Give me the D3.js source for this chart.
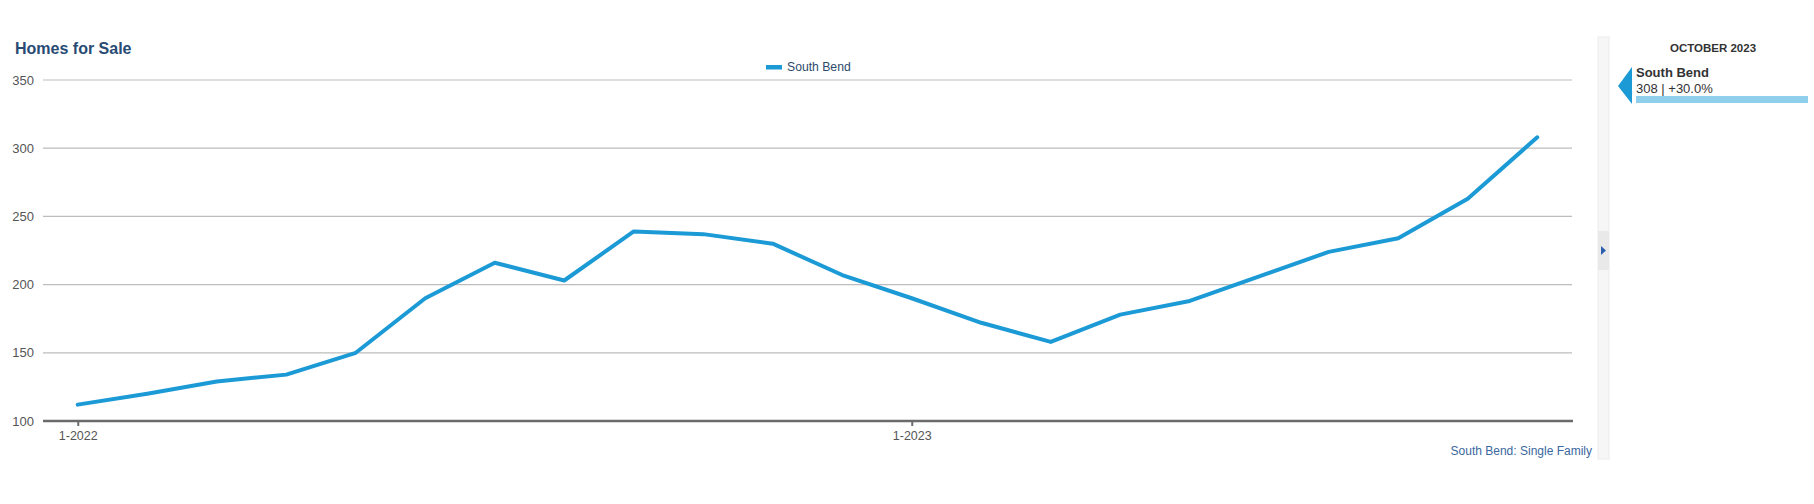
<!DOCTYPE html>
<html><head><meta charset="utf-8">
<script src="https://cdn.jsdelivr.net/npm/d3@7/dist/d3.min.js"></script>
<style>body{margin:0;background:#fff;font-family:"Liberation Sans",Arial,sans-serif;}</style>
</head><body>
<svg id="c" width="1814" height="504"></svg>
<script>
const months = ["1-2022","2-2022","3-2022","4-2022","5-2022","6-2022","7-2022","8-2022","9-2022","10-2022","11-2022","12-2022",
"1-2023","2-2023","3-2023","4-2023","5-2023","6-2023","7-2023","8-2023","9-2023","10-2023"];
const southBend = [112,120,129,134,150,190,216,203,239,237,230,207,190,172,158,178,188,206,224,234,263,308];
const yTicks = [100,150,200,250,300,350];
const xTickLabels = ["1-2022","1-2023"];
const seriesName = "South Bend";
const title = "Homes for Sale";
const panelTitle = "OCTOBER 2023";
const panelValue = "308 | +30.0%";
const footnote = "South Bend: Single Family";

const svg = d3.select("#c");
const blue = "#1b9ad6";
const x = d3.scalePoint().domain(months).range([43,1572]).padding(0.5);
const y = d3.scaleLinear().domain([100,350]).range([421,80]);

svg.append("text").attr("x",15).attr("y",54).attr("font-size",16).attr("font-weight","bold")
  .attr("fill","#284b73").text(title);

// gridlines
svg.append("g").selectAll("line").data(yTicks.filter(d=>d>100)).join("line")
  .attr("x1",43).attr("x2",1572).attr("y1",d=>y(d)).attr("y2",d=>y(d))
  .attr("stroke","#bdbdbd").attr("stroke-width",1.2);
// y labels
svg.append("g").selectAll("text").data(yTicks).join("text")
  .attr("x",34).attr("y",d=>y(d)+4.5).attr("text-anchor","end").attr("font-size",13).attr("fill","#555").text(d=>d);
// x axis
const xAxis = d3.axisBottom(x).tickValues(xTickLabels).tickSize(5).tickSizeOuter(0);
const gx = svg.append("g").attr("transform","translate(0,421)").call(xAxis);
gx.select(".domain").attr("d","M43,0H1573").attr("stroke","#6b6b6b").attr("stroke-width",2.5);
gx.selectAll(".tick line").attr("stroke","#6b6b6b").attr("stroke-width",2);
gx.selectAll(".tick text").attr("font-size",12.5).attr("fill","#555").attr("font-family","Liberation Sans, Arial, sans-serif").attr("dy","0.9em");

// line
const line = d3.line().x((d,i)=>x(months[i])).y(d=>y(d));
svg.append("path").datum(southBend).attr("d",line).attr("fill","none").attr("stroke",blue)
  .attr("stroke-width",4).attr("stroke-linejoin","round").attr("stroke-linecap","round");

// legend
svg.append("rect").attr("x",766).attr("y",65).attr("width",16).attr("height",4.5).attr("fill",blue);
svg.append("text").attr("x",787).attr("y",71).attr("font-size",12.2).attr("fill","#2c4a6b").text(seriesName);

// footnote
svg.append("text").attr("x",1592).attr("y",455).attr("text-anchor","end").attr("font-size",12).attr("fill","#3a68a0").text(footnote);

// side strip
svg.append("rect").attr("x",1598).attr("y",37).attr("width",11).attr("height",422).attr("fill","#f6f6f6").attr("stroke","#ececec");
svg.append("rect").attr("x",1598).attr("y",231).attr("width",11).attr("height",39).attr("fill","#e9e9e9");
svg.append("path").attr("d","M1601,246L1606,250.5L1601,255Z").attr("fill","#2d5fae");

// panel
svg.append("text").attr("x",1713).attr("y",52).attr("text-anchor","middle").attr("font-size",11.5).attr("font-weight","bold").attr("fill","#333").text(panelTitle);
svg.append("path").attr("d","M1618,86L1632,67L1632,104Z").attr("fill",blue);
svg.append("text").attr("x",1636).attr("y",77).attr("font-size",13).attr("font-weight","bold").attr("fill","#333").text(seriesName);
svg.append("text").attr("x",1636).attr("y",93).attr("font-size",13).attr("fill","#333").text(panelValue);
svg.append("rect").attr("x",1636).attr("y",96).attr("width",172).attr("height",7).attr("fill","#8fcfeb");
</script>
</body></html>
